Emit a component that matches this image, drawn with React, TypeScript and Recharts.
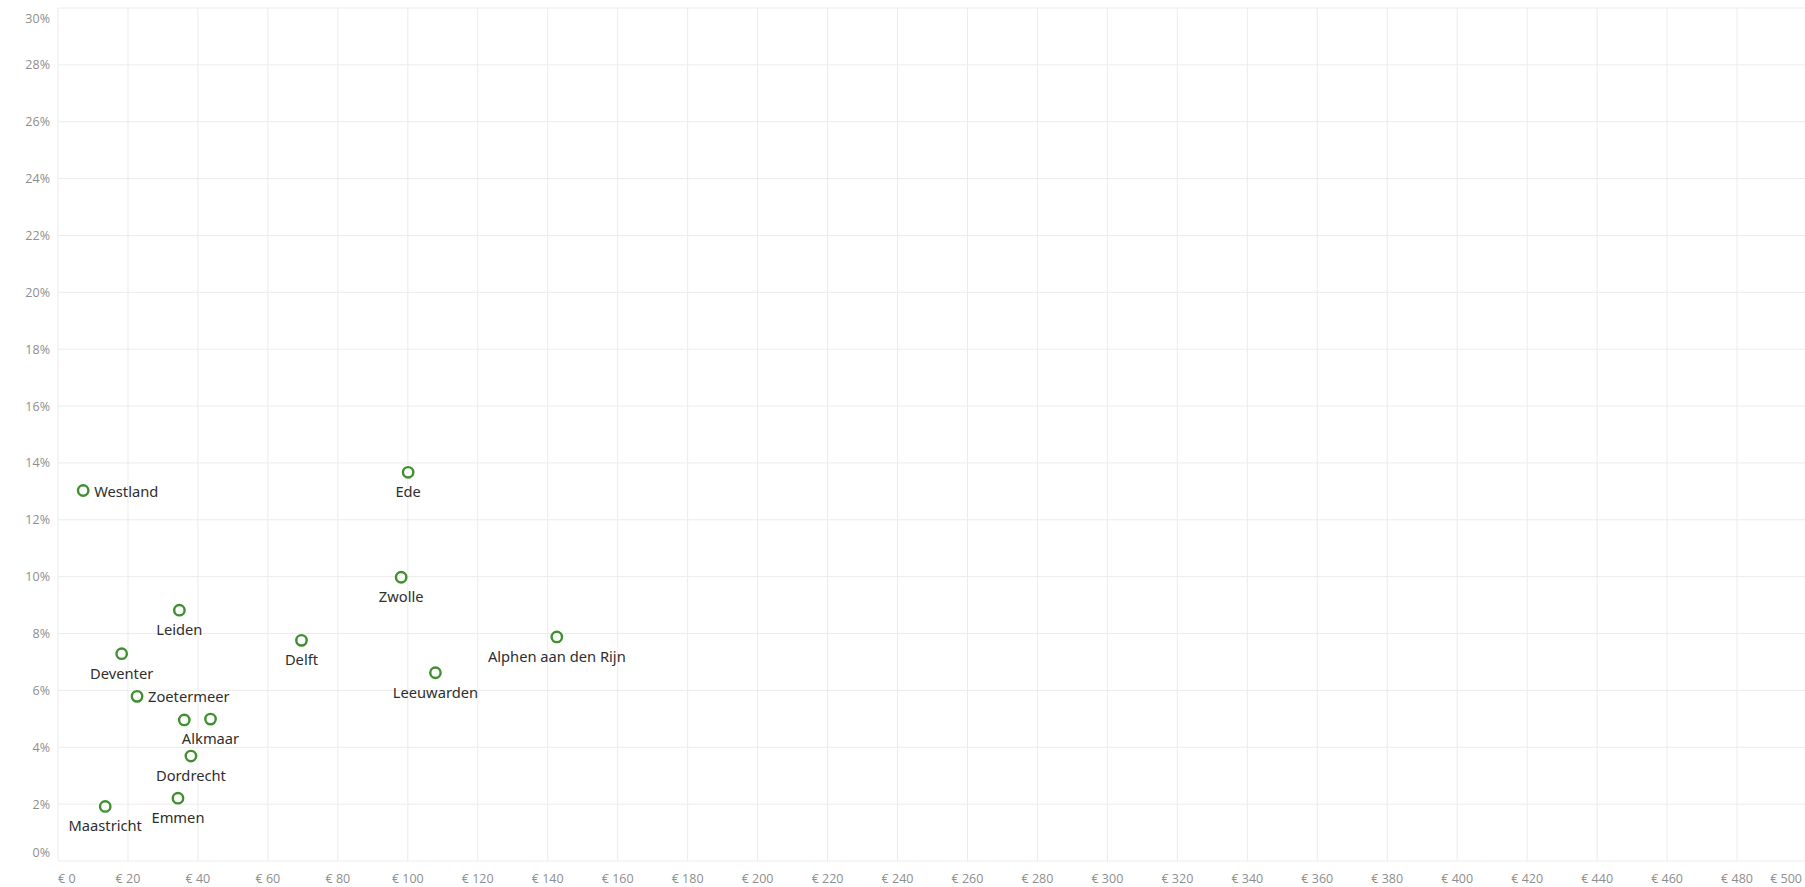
import React from 'react';
import { ScatterChart, Scatter, XAxis, YAxis, CartesianGrid } from 'recharts';

const cities = [
  'Westland', 'Ede', 'Zwolle', 'Leiden', 'Delft', 'Alphen aan den Rijn', 'Deventer',
  'Leeuwarden', 'Zoetermeer', '', 'Alkmaar', 'Dordrecht', 'Emmen', 'Maastricht',
];
const prices = [7.2, 100.1, 98.1, 34.7, 69.6, 142.6, 18.2, 107.9, 22.6, 36.1, 43.6, 38.0, 34.3, 13.5];
const shares = [13.03, 13.67, 9.98, 8.82, 7.76, 7.88, 7.29, 6.62, 5.79, 4.96, 4.99, 3.69, 2.21, 1.92];

const xTicks = Array.from({ length: 26 }, (_, i) => i * 20);
const yTicks = Array.from({ length: 16 }, (_, i) => i * 2);

const rows = cities.map((name, i) => ({ name, price: prices[i], share: shares[i] }));

// labels that Tableau put to the right of the mark instead of under it
const rightLabels = new Set(['Westland', 'Zoetermeer']);

const GREEN = '#3f8f2f';
const labelFont = "'Noto Sans', 'Open Sans', sans-serif";
const tickFont = "'Open Sans', 'Lato', sans-serif";

const Dot = (props: any) => {
  const { cx, cy, payload } = props;
  const right = rightLabels.has(payload.name);
  return (
    <g>
      <circle cx={cx} cy={cy} r={5.2} fill="#fff" stroke={GREEN} strokeWidth={2.4} />
      {payload.name && (
        <text
          x={right ? cx + 11 : cx}
          y={right ? cy : cy + 19}
          textAnchor={right ? 'start' : 'middle'}
          dominantBaseline="central"
          fontFamily={labelFont}
          fontSize={14.7}
          fill="#2e2e2e"
        >
          {payload.name}
        </text>
      )}
    </g>
  );
};

const XTick = (props: any) => {
  const { x, y, payload } = props;
  const v = payload.value;
  let anchor: 'middle' | 'start' | 'end' = 'middle';
  let tx = x;
  if (v === 0) anchor = 'start';
  if (v === 500) {
    anchor = 'end';
    tx = 1802;
  }
  return (
    <text x={tx} y={y + 17} textAnchor={anchor} dominantBaseline="central" fontFamily={tickFont} fontSize={12.5} fill="#8e8e8e">
      {`€ ${v}`}
    </text>
  );
};

const YTick = (props: any) => {
  const { x, y, payload } = props;
  const v = payload.value;
  let ty = y;
  if (v === 30) ty = y + 10;
  if (v === 0) ty = y - 9;
  return (
    <text x={x - 8} y={ty} textAnchor="end" dominantBaseline="central" fontFamily={tickFont} fontSize={12.5} fill="#8e8e8e">
      {`${v}%`}
    </text>
  );
};

export default function App() {
  return (
    <div style={{ position: 'absolute', left: 0, top: 0, width: 1805, height: 887, overflow: 'hidden', background: '#fff' }}>
      <ScatterChart width={1807} height={887} margin={{ top: 8, right: 0, bottom: 0, left: 0 }}>
        <CartesianGrid stroke="#ececec" strokeWidth={1} />
        <XAxis
          type="number"
          dataKey="price"
          domain={[0, 500]}
          ticks={xTicks}
          interval={0}
          height={26}
          axisLine={false}
          tickLine={false}
          tickSize={0}
          tickMargin={0}
          tick={<XTick />}
        />
        <YAxis
          type="number"
          dataKey="share"
          domain={[0, 30]}
          ticks={yTicks}
          interval={0}
          width={58}
          axisLine={false}
          tickLine={false}
          tickSize={0}
          tickMargin={0}
          tick={<YTick />}
        />
        <Scatter data={rows} shape={<Dot />} isAnimationActive={false} />
      </ScatterChart>
    </div>
  );
}
